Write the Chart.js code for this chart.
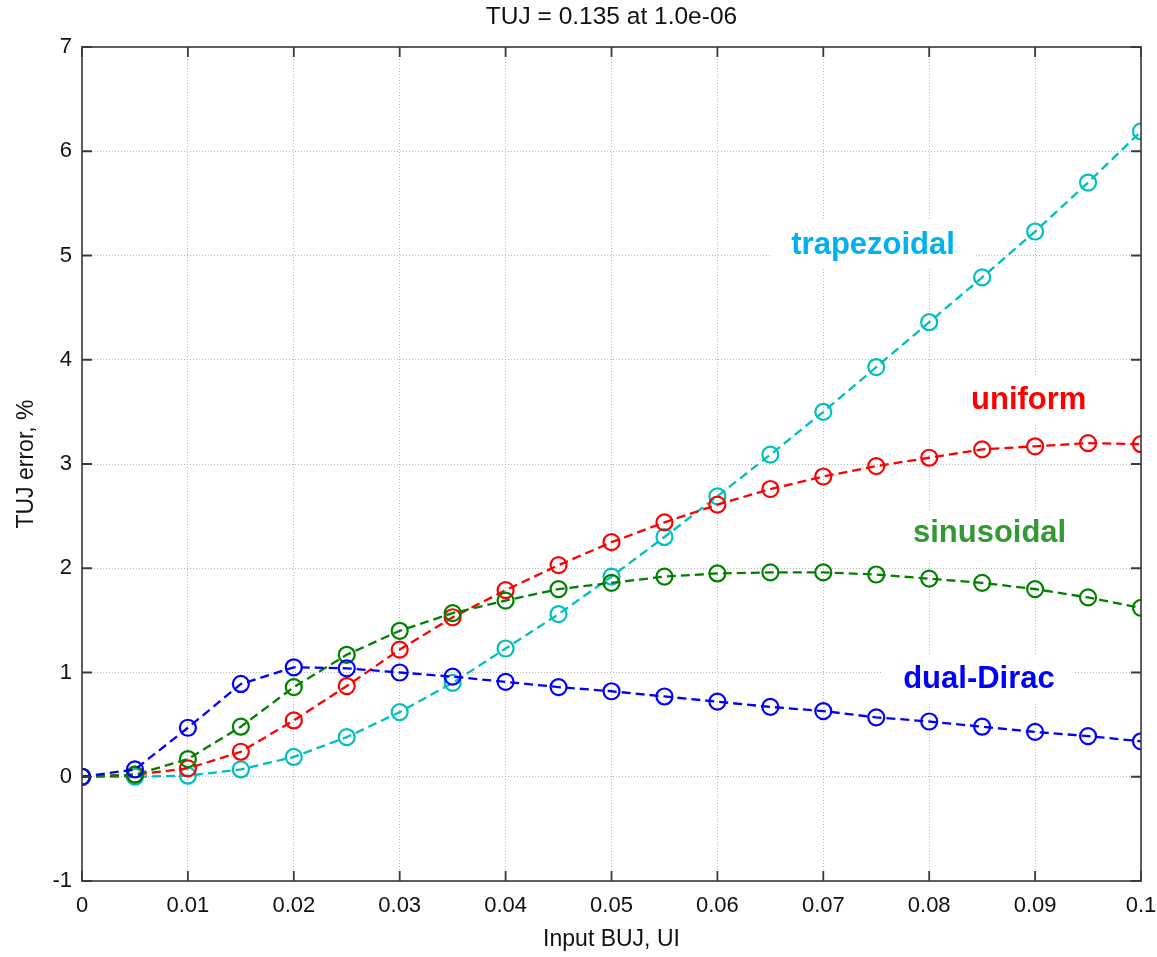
<!DOCTYPE html>
<html>
<head>
<meta charset="utf-8">
<title>TUJ error vs input BUJ</title>
<script src="https://cdn.jsdelivr.net/npm/chart.js@4"></script>
<style>
  html, body { margin: 0; padding: 0; background: #fff; }
  #wrap { width: 1157px; height: 957px; position: relative; }
</style>
</head>
<body>
<div id="wrap"><canvas id="tujCanvas"></canvas></div>
<script>
// x-values (input BUJ, UI)
const buj = [0, 0.005, 0.01, 0.015, 0.02, 0.025, 0.03, 0.035, 0.04, 0.045, 0.05,
             0.055, 0.06, 0.065, 0.07, 0.075, 0.08, 0.085, 0.09, 0.095, 0.1];

// TUJ error, % for each BUJ shape
const dualDirac   = [0, 0.07, 0.47, 0.89, 1.05, 1.04, 1.00, 0.96, 0.91, 0.86, 0.82,
                     0.77, 0.72, 0.67, 0.63, 0.57, 0.53, 0.48, 0.43, 0.39, 0.34];
const sinusoidal  = [0, 0.02, 0.17, 0.48, 0.86, 1.17, 1.40, 1.57, 1.69, 1.80, 1.86,
                     1.92, 1.95, 1.96, 1.96, 1.94, 1.90, 1.86, 1.80, 1.72, 1.62];
const uniform     = [0, 0.02, 0.08, 0.24, 0.54, 0.87, 1.22, 1.53, 1.79, 2.03, 2.25,
                     2.44, 2.61, 2.76, 2.88, 2.98, 3.06, 3.14, 3.17, 3.20, 3.19];
const trapezoidal = [0, 0.00, 0.01, 0.07, 0.19, 0.38, 0.62, 0.90, 1.23, 1.56, 1.92,
                     2.30, 2.69, 3.09, 3.50, 3.93, 4.36, 4.79, 5.23, 5.70, 6.19];

// tick values / labels
const xTickValues = [0, 0.01, 0.02, 0.03, 0.04, 0.05, 0.06, 0.07, 0.08, 0.09, 0.1];
const xTickLabels = ["0", "0.01", "0.02", "0.03", "0.04", "0.05", "0.06", "0.07", "0.08", "0.09", "0.1"];
const yTickValues = [-1, 0, 1, 2, 3, 4, 5, 6, 7];

// text labels placed inside the plot (data units)
const labelNames = ["trapezoidal", "uniform", "sinusoidal", "dual-Dirac"];
const labelX = [0.0747, 0.0894, 0.0857, 0.0847];
const labelY = [5.10, 3.61, 2.33, 0.93];
const labelColors = ["#00b0f0", "#ff0000", "#339933", "#0000ff"];

const FONT = "'Liberation Sans', Arial, Helvetica, sans-serif";

const toPoints = (ys) => ys.map((y, i) => ({ x: buj[i], y: y }));

const makeSeries = (label, ys, color) => ({
  label,
  data: toPoints(ys),
  borderColor: color,
  backgroundColor: color,
  borderWidth: 2.3,
  borderDash: [9, 5],
  pointRadius: 8,
  pointHoverRadius: 8,
  pointBorderWidth: 2.2,
  pointBorderColor: color,
  pointBackgroundColor: "rgba(0,0,0,0)",
  tension: 0,
  fill: false,
});

// white boxes + coloured text, drawn under the lines
const textLabels = {
  id: "textLabels",
  beforeDatasetsDraw(chart) {
    const { ctx, scales } = chart;
    ctx.save();
    ctx.font = "bold 31px " + FONT;
    ctx.textAlign = "center";
    ctx.textBaseline = "middle";
    labelNames.forEach((name, i) => {
      const px = scales.x.getPixelForValue(labelX[i]);
      const py = scales.y.getPixelForValue(labelY[i]);
      const w = ctx.measureText(name).width;
      ctx.fillStyle = "#fff";
      ctx.fillRect(px - w / 2 - 20, py - 24, w + 40, 48);
      ctx.fillStyle = labelColors[i];
      ctx.fillText(name, px, py);
    });
    ctx.restore();
  },
};

// full box with inward tick marks
const frame = {
  id: "frame",
  afterDraw(chart) {
    const { ctx, chartArea: a, scales } = chart;
    ctx.save();
    ctx.strokeStyle = "#3a3a3a";
    ctx.lineWidth = 1.6;
    ctx.strokeRect(a.left, a.top, a.right - a.left, a.bottom - a.top);
    ctx.lineWidth = 1.8;
    ctx.beginPath();
    xTickValues.forEach((v) => {
      const px = scales.x.getPixelForValue(v);
      ctx.moveTo(px, a.bottom); ctx.lineTo(px, a.bottom - 10);
      ctx.moveTo(px, a.top); ctx.lineTo(px, a.top + 10);
    });
    yTickValues.forEach((v) => {
      const py = scales.y.getPixelForValue(v);
      ctx.moveTo(a.left, py); ctx.lineTo(a.left + 10, py);
      ctx.moveTo(a.right, py); ctx.lineTo(a.right - 10, py);
    });
    ctx.stroke();
    ctx.restore();
  },
};

const config = {
  type: "line",
  data: {
    datasets: [
      makeSeries("dual-Dirac", dualDirac, "#0000ff"),
      makeSeries("sinusoidal", sinusoidal, "#008000"),
      makeSeries("uniform", uniform, "#ff0000"),
      makeSeries("trapezoidal", trapezoidal, "#00bfbf"),
    ],
  },
  options: {
    responsive: false,
    animation: false,
    events: [],
    layout: { padding: { left: 0, right: 0, top: 0, bottom: 0 } },
    plugins: {
      legend: { display: false },
      tooltip: { enabled: false },
      title: {
        display: true,
        fullSize: false, // centre over the plot area, not the whole canvas
        text: "TUJ = 0.135 at 1.0e-06",
        color: "#111",
        font: { family: FONT, size: 24.5, weight: "normal" },
        padding: { top: 3, bottom: 14.6 },
      },
    },
    scales: {
      x: {
        type: "linear",
        min: 0,
        max: 0.1,
        afterBuildTicks: (scale) => { scale.ticks = xTickValues.map((v) => ({ value: v })); },
        afterFit: (scale) => {
          scale.height = 76;
          scale.paddingLeft = 0;
          scale.paddingRight = 16;
        },
        ticks: {
          autoSkip: false,
          maxRotation: 0,
          padding: 12,
          color: "#111",
          font: { family: FONT, size: 22 },
          callback: (value, index) => xTickLabels[index],
        },
        grid: { color: "#b8b8b8", lineWidth: 1, drawTicks: false },
        border: { display: false, dash: [1, 2] },
        title: {
          display: true,
          text: "Input BUJ, UI",
          color: "#111",
          font: { family: FONT, size: 23 },
          padding: { top: 4, bottom: 4 },
        },
      },
      y: {
        type: "linear",
        min: -1,
        max: 7,
        afterBuildTicks: (scale) => { scale.ticks = yTickValues.map((v) => ({ value: v })); },
        afterFit: (scale) => { scale.width = 82; },
        ticks: {
          padding: 10,
          color: "#111",
          font: { family: FONT, size: 22 },
        },
        grid: { color: "#b8b8b8", lineWidth: 1, drawTicks: false },
        border: { display: false, dash: [1, 2] },
        title: {
          display: true,
          text: "TUJ error, %",
          color: "#111",
          font: { family: FONT, size: 23 },
          padding: { top: 13, bottom: 0 },
        },
      },
    },
  },
  plugins: [textLabels, frame],
};

const canvas = document.getElementById("tujCanvas");
canvas.width = 1157;
canvas.height = 957;
new Chart(canvas, config);
</script>
</body>
</html>
